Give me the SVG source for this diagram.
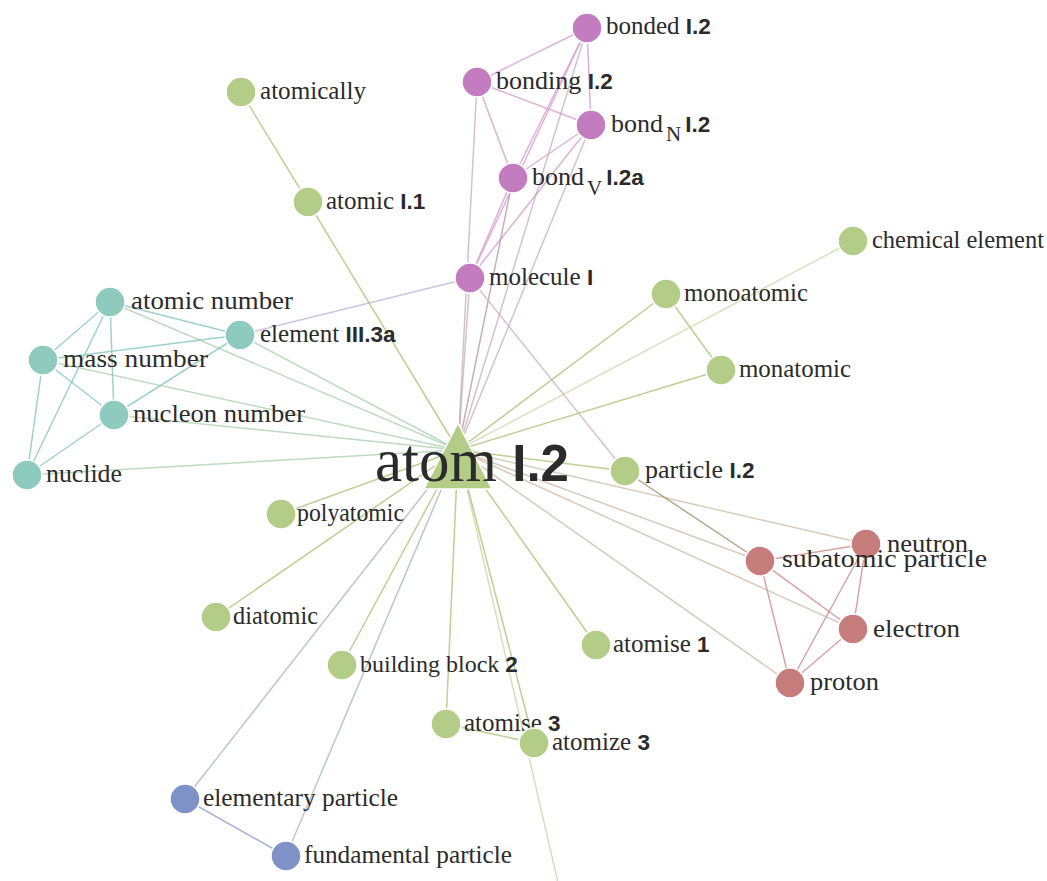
<svg xmlns="http://www.w3.org/2000/svg" width="1047" height="881" viewBox="0 0 1047 881">
<style>
.bg{fill:#ffffff}
line{stroke-width:1.5;fill:none}
.g{stroke:#b3cc87;opacity:.9}
.p{stroke:#d7a3d4;opacity:.85}
.t{stroke:#8ecabd;opacity:.85}
.r{stroke:#c67c7b;opacity:.7}
.b{stroke:#8e9fd0;opacity:.8}
.gp{stroke:#b89aa8;opacity:.6}
.gt{stroke:#a3cca7;opacity:.7}
.gr{stroke:#c2a68c;opacity:.6}
.gb{stroke:#a3b4bb;opacity:.75}
.tp{stroke:#bba6d4;opacity:.7}
.pg{stroke:#cfb1c6;opacity:.8}
.dk{stroke:#9c8a60;opacity:.75}
circle{stroke:#ffffff;stroke-width:1.5}
.ng circle{fill:#b3cc87}
.np circle{fill:#c27cbf}
.nt circle{fill:#8ecabd}
.nr circle{fill:#c67c7b}
.nb circle{fill:#7e92c8}
text{font-family:"Liberation Serif","Times New Roman",serif;font-size:25px;fill:#2b2b2b}
.bd{font-family:"Liberation Sans",Arial,sans-serif;font-weight:bold;font-size:22.5px}
.sub{font-size:21px}
</style>
<rect class="bg" x="0" y="0" width="1047" height="881"/>
<g id="connectors">
<line class="g" x1="458" y1="450" x2="308" y2="202"/>
<line class="g" x1="241" y1="92" x2="308" y2="202"/>
<line class="g" x1="458" y1="450" x2="666" y2="294"/>
<line class="g" x1="458" y1="450" x2="721" y2="370"/>
<line class="g" x1="666" y1="294" x2="721" y2="370"/>
<line class="g" x1="458" y1="450" x2="853" y2="241" style="opacity:.55"/>
<line class="g" x1="458" y1="450" x2="625" y2="471"/>
<line class="g" x1="458" y1="450" x2="281" y2="514"/>
<line class="g" x1="458" y1="450" x2="216" y2="617"/>
<line class="g" x1="458" y1="450" x2="596" y2="645"/>
<line class="g" x1="458" y1="450" x2="342" y2="665"/>
<line class="g" x1="458" y1="450" x2="446" y2="724"/>
<line class="g" x1="458" y1="450" x2="534" y2="743"/>
<line class="g" x1="446" y1="724" x2="534" y2="743"/>
<line class="g" x1="458" y1="450" x2="562" y2="900" style="opacity:.6"/>
<line class="p" x1="587" y1="28" x2="477" y2="82"/>
<line class="p" x1="587" y1="28" x2="591" y2="125"/>
<line class="p" x1="587" y1="28" x2="513" y2="178"/>
<line class="p" x1="587" y1="28" x2="470" y2="278"/>
<line class="p" x1="477" y1="82" x2="591" y2="125"/>
<line class="p" x1="477" y1="82" x2="513" y2="178"/>
<line class="p" x1="591" y1="125" x2="513" y2="178"/>
<line class="p" x1="591" y1="125" x2="470" y2="278"/>
<line class="p" x1="513" y1="178" x2="470" y2="278"/>
<line class="gp" x1="458" y1="450" x2="477" y2="82"/>
<line class="gp" x1="458" y1="450" x2="587" y2="28"/>
<line class="gp" x1="458" y1="450" x2="591" y2="125"/>
<line class="gp" x1="458" y1="450" x2="513" y2="178" style="opacity:.8"/>
<line class="gp" x1="458" y1="450" x2="470" y2="278"/>
<line class="pg" x1="470" y1="278" x2="625" y2="471"/>
<line class="tp" x1="240" y1="335" x2="470" y2="278"/>
<line class="t" x1="110" y1="302" x2="43" y2="360"/>
<line class="t" x1="110" y1="302" x2="114" y2="415"/>
<line class="t" x1="110" y1="302" x2="27" y2="475"/>
<line class="t" x1="110" y1="302" x2="240" y2="335"/>
<line class="t" x1="43" y1="360" x2="240" y2="335"/>
<line class="t" x1="43" y1="360" x2="114" y2="415"/>
<line class="t" x1="43" y1="360" x2="27" y2="475"/>
<line class="t" x1="114" y1="415" x2="240" y2="335"/>
<line class="t" x1="114" y1="415" x2="27" y2="475"/>
<line class="gt" x1="458" y1="450" x2="110" y2="302"/>
<line class="gt" x1="458" y1="450" x2="43" y2="360"/>
<line class="gt" x1="458" y1="450" x2="114" y2="415"/>
<line class="gt" x1="458" y1="450" x2="27" y2="475"/>
<line class="gt" x1="458" y1="450" x2="240" y2="335"/>
<line class="r" x1="760" y1="561" x2="866" y2="544"/>
<line class="r" x1="760" y1="561" x2="853" y2="629"/>
<line class="r" x1="760" y1="561" x2="790" y2="683"/>
<line class="r" x1="866" y1="544" x2="853" y2="629"/>
<line class="r" x1="866" y1="544" x2="790" y2="683"/>
<line class="r" x1="853" y1="629" x2="790" y2="683"/>
<line class="gr" x1="458" y1="450" x2="760" y2="561"/>
<line class="gr" x1="458" y1="450" x2="866" y2="544"/>
<line class="gr" x1="458" y1="450" x2="853" y2="629"/>
<line class="gr" x1="458" y1="450" x2="790" y2="683"/>
<line class="dk" x1="625" y1="471" x2="760" y2="561"/>
<line class="b" x1="185" y1="799" x2="286" y2="856"/>
<line class="gb" x1="458" y1="450" x2="185" y2="799"/>
<line class="gb" x1="458" y1="450" x2="286" y2="856"/>
</g>
<g id="n-atomically" class="ng"><circle cx="241" cy="92" r="15"/><text x="260" y="99" textLength="106" lengthAdjust="spacingAndGlyphs">atomically</text></g>
<g id="n-atomic" class="ng"><circle cx="308" cy="202" r="15"/><text x="326" y="209">atomic <tspan class="bd">I.1</tspan></text></g>
<g id="n-bonded" class="np"><circle cx="587" cy="28" r="15"/><text x="606" y="34">bonded <tspan class="bd">I.2</tspan></text></g>
<g id="n-bonding" class="np"><circle cx="477" cy="82" r="15"/><text x="496" y="89" style="font-size:26px">bonding <tspan class="bd">I.2</tspan></text></g>
<g id="n-bondN" class="np"><circle cx="591" cy="125" r="15"/><text x="611" y="132" style="font-size:26px">bond<tspan class="sub" dx="3" dy="9">N</tspan><tspan class="bd" dx="4" dy="-9">I.2</tspan></text></g>
<g id="n-bondV" class="np"><circle cx="513" cy="178" r="15"/><text x="532" y="185" style="font-size:26px">bond<tspan class="sub" dx="3" dy="10">V</tspan><tspan class="bd" dx="4" dy="-10">I.2a</tspan></text></g>
<g id="n-molecule" class="np"><circle cx="470" cy="278" r="15"/><text x="489" y="285">molecule <tspan class="bd">I</tspan></text></g>
<g id="n-chemical" class="ng"><circle cx="853" cy="241" r="15"/><text x="872" y="248" textLength="172" lengthAdjust="spacingAndGlyphs">chemical element</text></g>
<g id="n-monoatomic" class="ng"><circle cx="666" cy="294" r="15"/><text x="684" y="301" textLength="124" lengthAdjust="spacingAndGlyphs">monoatomic</text></g>
<g id="n-monatomic" class="ng"><circle cx="721" cy="370" r="15"/><text x="739" y="377" textLength="112" lengthAdjust="spacingAndGlyphs">monatomic</text></g>
<g id="n-atomicnumber" class="nt"><circle cx="110" cy="302" r="15"/><text x="131" y="309" textLength="162" lengthAdjust="spacingAndGlyphs">atomic number</text></g>
<g id="n-element" class="nt"><circle cx="240" cy="335" r="15"/><text x="260" y="342">element <tspan class="bd">III.3a</tspan></text></g>
<g id="n-mass" class="nt"><circle cx="43" cy="360" r="15"/><text x="63" y="367" textLength="145" lengthAdjust="spacingAndGlyphs">mass number</text></g>
<g id="n-nucleon" class="nt"><circle cx="114" cy="415" r="15"/><text x="133" y="422" textLength="172" lengthAdjust="spacingAndGlyphs">nucleon number</text></g>
<g id="n-nuclide" class="nt"><circle cx="27" cy="475" r="15"/><text x="46" y="482" textLength="76" lengthAdjust="spacingAndGlyphs">nuclide</text></g>
<g id="n-particle" class="ng"><circle cx="625" cy="471" r="15"/><text x="645" y="478" style="font-size:26px">particle <tspan class="bd">I.2</tspan></text></g>
<g id="n-polyatomic" class="ng"><circle cx="281" cy="514" r="15"/><text x="297" y="521" textLength="107" lengthAdjust="spacingAndGlyphs">polyatomic</text></g>
<g id="n-diatomic" class="ng"><circle cx="216" cy="617" r="15"/><text x="233" y="624" textLength="85" lengthAdjust="spacingAndGlyphs">diatomic</text></g>
<g id="n-atomise1" class="ng"><circle cx="596" cy="645" r="15"/><text x="613" y="652">atomise <tspan class="bd">1</tspan></text></g>
<g id="n-building" class="ng"><circle cx="342" cy="665" r="15"/><text x="360" y="672" style="font-size:24px">building block <tspan class="bd">2</tspan></text></g>
<g id="n-atomise3" class="ng"><circle cx="446" cy="724" r="15"/><text x="464" y="731">atomise <tspan class="bd">3</tspan></text></g>
<g id="n-atomize3" class="ng"><circle cx="534" cy="743" r="15"/><text x="552" y="750">atomize <tspan class="bd">3</tspan></text></g>
<g id="n-elementary" class="nb"><circle cx="185" cy="799" r="15"/><text x="203" y="806" textLength="195" lengthAdjust="spacingAndGlyphs">elementary particle</text></g>
<g id="n-fundamental" class="nb"><circle cx="286" cy="856" r="15"/><text x="304" y="863" textLength="208" lengthAdjust="spacingAndGlyphs">fundamental particle</text></g>
<g id="n-neutron" class="nr"><circle cx="866" cy="544" r="15"/><text x="887" y="552" textLength="81" lengthAdjust="spacingAndGlyphs">neutron</text></g>
<g id="n-subatomic" class="nr"><circle cx="760" cy="561" r="15"/><text x="782" y="567" textLength="205" lengthAdjust="spacingAndGlyphs">subatomic particle</text></g>
<g id="n-electron" class="nr"><circle cx="853" cy="629" r="15"/><text x="873" y="637" textLength="87" lengthAdjust="spacingAndGlyphs">electron</text></g>
<g id="n-proton" class="nr"><circle cx="790" cy="683" r="15"/><text x="810" y="690" textLength="69" lengthAdjust="spacingAndGlyphs">proton</text></g>
<g id="n-atom">
<polygon points="458,423 424,489 492,489" fill="#b3cc87" stroke="#ffffff" stroke-width="1.5"/>
<text x="375" y="481" style="font-size:61px">atom <tspan class="bd" style="font-size:51px">I.2</tspan></text>
</g>
</svg>
